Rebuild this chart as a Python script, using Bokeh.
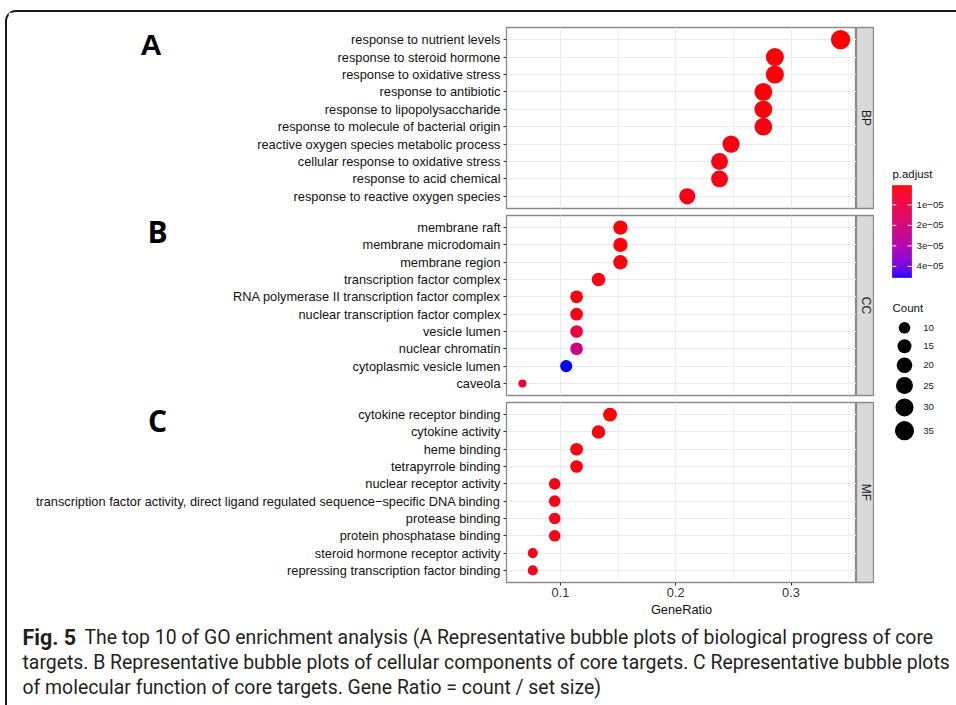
import numpy as np
from bokeh.plotting import figure
from bokeh.models import (ColumnDataSource, FactorRange, Range1d, FixedTicker,
                          LinearColorMapper, Label)
from bokeh.layouts import row, column
from bokeh.transform import transform
from bokeh.core.properties import value
from bokeh.embed import file_html
from bokeh.resources import INLINE

FONT = "Liberation Sans"
CAP_FONT = "Roboto"

# ---------------- data ----------------
BP_TERMS = ["response to nutrient levels", "response to steroid hormone",
            "response to oxidative stress", "response to antibiotic",
            "response to lipopolysaccharide", "response to molecule of bacterial origin",
            "reactive oxygen species metabolic process", "cellular response to oxidative stress",
            "response to acid chemical", "response to reactive oxygen species"]
BP_RATIO = [0.343, 0.286, 0.286, 0.276, 0.276, 0.276, 0.248, 0.238, 0.238, 0.210]
BP_COUNT = [36, 30, 30, 29, 29, 29, 26, 25, 25, 22]
BP_PADJ = [5.8e-07, 1.1e-06, 1.6e-06, 1.3e-06, 1.5e-06, 1.9e-06, 2.1e-06, 2.4e-06, 2.6e-06, 3.0e-06]

CC_TERMS = ["membrane raft", "membrane microdomain", "membrane region",
            "transcription factor complex", "RNA polymerase II transcription factor complex",
            "nuclear transcription factor complex", "vesicle lumen", "nuclear chromatin",
            "cytoplasmic vesicle lumen", "caveola"]
CC_RATIO = [0.152, 0.152, 0.152, 0.133, 0.114, 0.114, 0.114, 0.114, 0.105, 0.067]
CC_COUNT = [16, 16, 16, 14, 12, 12, 12, 12, 11, 7]
CC_PADJ = [1.2e-06, 1.4e-06, 1.6e-06, 2.2e-06, 2.0e-06, 2.4e-06, 9.5e-06, 2.2e-05, 4.54e-05, 5.5e-06]

MF_TERMS = ["cytokine receptor binding", "cytokine activity", "heme binding",
            "tetrapyrrole binding", "nuclear receptor activity",
            "transcription factor activity, direct ligand regulated sequence\u2212specific DNA binding",
            "protease binding", "protein phosphatase binding",
            "steroid hormone receptor activity", "repressing transcription factor binding"]
MF_RATIO = [0.143, 0.133, 0.114, 0.114, 0.095, 0.095, 0.095, 0.095, 0.076, 0.076]
MF_COUNT = [15, 14, 12, 12, 10, 10, 10, 10, 8, 8]
MF_PADJ = [1.0e-06, 1.2e-06, 1.8e-06, 2.0e-06, 2.3e-06, 2.5e-06, 2.7e-06, 2.9e-06, 3.0e-06, 3.2e-06]

PANELS = ["BP", "CC", "MF"]
LETTERS = ["A", "B", "C"]
X_TICKS = [0.1, 0.2, 0.3]
X_TICK_LABELS = ["0.1", "0.2", "0.3"]
X_MINOR = [0.15, 0.25, 0.35]
PADJ_TICKS = [1e-05, 2e-05, 3e-05, 4e-05]
PADJ_TICK_LABELS = ["1e\u221205", "2e\u221205", "3e\u221205", "4e\u221205"]
COUNT_BREAKS = [10, 15, 20, 25, 30, 35]
CAPTION_BOLD = "Fig. 5"
CAPTION_LINES = ["The top 10 of GO enrichment analysis (A Representative bubble plots of biological progress of core",
                 "targets. B Representative bubble plots of cellular components of core targets. C Representative bubble plots",
                 "of molecular function of core targets. Gene Ratio = count / set size)"]

# ---------------- scales ----------------
ALL_RATIO = BP_RATIO + CC_RATIO + MF_RATIO
ALL_COUNT = BP_COUNT + CC_COUNT + MF_COUNT
ALL_PADJ = BP_PADJ + CC_PADJ + MF_PADJ
span = max(ALL_RATIO) - min(ALL_RATIO)
XMIN, XMAX = min(ALL_RATIO) - 0.05 * span, max(ALL_RATIO) + 0.05 * span
CMIN, CMAX = min(ALL_COUNT), max(ALL_COUNT)
PMIN, PMAX = min(ALL_PADJ), max(ALL_PADJ)
D_MIN, D_MAX = 8.0, 19.3


def size_of(c):
    t = (np.asarray(c, dtype=float) - CMIN) / (CMAX - CMIN)
    return D_MIN + (D_MAX - D_MIN) * np.sqrt(np.clip(t, 0, None))


M = np.array([[0.4124564, 0.3575761, 0.1804375],
              [0.2126729, 0.7151522, 0.0721750],
              [0.0193339, 0.1191920, 0.9503041]])
WHITE = np.array([0.95047, 1.0, 1.08883])


def to_lab(h):
    rgb = np.array([int(h[i:i + 2], 16) for i in (1, 3, 5)]) / 255.0
    lin = np.where(rgb <= 0.04045, rgb / 12.92, ((rgb + 0.055) / 1.055) ** 2.4)
    xyz = (M @ lin) / WHITE
    f = np.where(xyz > 0.008856, np.cbrt(xyz), 7.787 * xyz + 16 / 116)
    return np.array([116 * f[1] - 16, 500 * (f[0] - f[1]), 200 * (f[1] - f[2])])


def from_lab(lab):
    L, a, b = lab
    fy = (L + 16) / 116
    f = np.array([fy + a / 500, fy, fy - b / 200])
    xyz = np.where(f ** 3 > 0.008856, f ** 3, (f - 16 / 116) / 7.787) * WHITE
    lin = np.clip(np.linalg.inv(M) @ xyz, 0, 1)
    rgb = np.where(lin <= 0.0031308, 12.92 * lin, 1.055 * lin ** (1 / 2.4) - 0.055)
    return "#%02x%02x%02x" % tuple(int(round(v * 255)) for v in np.clip(rgb, 0, 1))


L0, L1 = to_lab("#ff0000"), to_lab("#0000ff")
PAL = [from_lab(L0 + (L1 - L0) * t) for t in np.linspace(0, 1, 256)]
cmap = LinearColorMapper(palette=PAL, low=PMIN, high=PMAX)

x_range = Range1d(XMIN, XMAX)
GRID = "#ebebeb"
BORDER = "#8a8a8a"

FRAME_W = 350
LEFT = 498
X_PER_PX = (XMAX - XMIN) / FRAME_W


def make_panel(terms, ratio, count, padj, strip, letter, top, fh, bottom, xaxis, letter_dx, letter_dy, letter_font):
    src = ColumnDataSource(dict(term=terms, ratio=ratio, count=count, padj=padj, size=size_of(count)))
    n = len(terms)
    p = figure(y_range=FactorRange(factors=list(reversed(terms)), range_padding=0.2,
                                   range_padding_units="absolute"),
               x_range=x_range, frame_width=FRAME_W, frame_height=fh,
               min_border_left=LEFT, min_border_right=0, min_border_top=top, min_border_bottom=bottom,
               output_backend="svg", toolbar_location=None)
    p.outline_line_color = BORDER
    p.outline_line_width = 1.3
    p.xgrid.ticker = FixedTicker(ticks=X_TICKS, minor_ticks=X_MINOR)
    p.xgrid.grid_line_color = GRID
    p.xgrid.grid_line_width = 1.1
    p.xgrid.minor_grid_line_color = GRID
    p.xgrid.minor_grid_line_width = 0.7
    p.ygrid.grid_line_color = GRID
    p.ygrid.grid_line_width = 1.1
    ya = p.yaxis[0]
    ya.axis_line_color = None
    ya.major_tick_line_color = "#333333"
    ya.major_tick_out = 3
    ya.major_tick_in = 0
    ya.major_label_standoff = 3
    ya.major_label_text_font = FONT
    ya.major_label_text_font_size = "12.8px"
    ya.major_label_text_color = "#111111"
    xa = p.xaxis[0]
    if xaxis:
        xa.ticker = FixedTicker(ticks=X_TICKS)
        xa.major_label_overrides = dict(zip(X_TICKS, X_TICK_LABELS))
        xa.axis_line_color = None
        xa.major_tick_line_color = "#333333"
        xa.major_tick_out = 3
        xa.major_tick_in = 0
        xa.minor_tick_line_color = None
        xa.major_label_standoff = 2
        xa.major_label_text_font = FONT
        xa.major_label_text_font_size = "12.8px"
        xa.major_label_text_color = "#333333"
        xa.axis_label = "GeneRatio"
        xa.axis_label_standoff = 2
        xa.axis_label_text_font = FONT
        xa.axis_label_text_font_size = "12.8px"
        xa.axis_label_text_font_style = "normal"
        xa.axis_label_text_color = "#111111"
    else:
        xa.visible = False
    p.scatter(x="ratio", y="term", size="size", source=src,
              fill_color=transform("padj", cmap), line_color=None)
    # panel letter: lives in the left side panel (not clipped), positioned in data units
    y_top = n + 0.1
    y_per_px = (n + 0.2) / fh
    p.add_layout(Label(x=XMIN + letter_dx * X_PER_PX, y=y_top - letter_dy * y_per_px,
                       x_units="data", y_units="data",
                       text=letter, text_font=letter_font, text_font_style="bold",
                       text_font_size="30px", text_align="center", text_baseline="middle",
                       text_color="black"), "left")

    s = figure(x_range=Range1d(0, 1), y_range=Range1d(0, 1), frame_width=18, frame_height=fh,
               min_border_left=0, min_border_right=0, min_border_top=top, min_border_bottom=bottom,
               x_axis_location=None, y_axis_location=None,
               output_backend="svg", toolbar_location=None)
    s.grid.visible = False
    s.background_fill_color = "#d9d9d9"
    s.outline_line_color = BORDER
    s.outline_line_width = 1.3
    s.text(x=[0.5], y=[0.5], text=[strip], angle=-np.pi / 2, text_align="center",
           text_baseline="middle", text_font=value(FONT), text_font_size="12px",
           text_color="#1a1a1a")
    return row(p, s)


# page offsets: content starts at page (8, 12)
r1 = make_panel(BP_TERMS, BP_RATIO, BP_COUNT, BP_PADJ, PANELS[0], LETTERS[0], 15, 181, 3, False,
                150.5 - 506, 43 - 27, FONT)
r2 = make_panel(CC_TERMS, CC_RATIO, CC_COUNT, CC_PADJ, PANELS[1], LETTERS[1], 4, 180, 3, False,
                157 - 506, 230 - 215, "Open Sans")
r3 = make_panel(MF_TERMS, MF_RATIO, MF_COUNT, MF_PADJ, PANELS[2], LETTERS[2], 4, 180, 38, True,
                157 - 506, 419 - 402, "Open Sans")

TOP_Y = 12
TOTAL_H = (15 + 181 + 3) + (4 + 180 + 3) + (4 + 180 + 38)
LEG_X = 874
LEG_W = 74
leg = figure(width=LEG_W, height=TOTAL_H, x_range=Range1d(0, LEG_W), y_range=Range1d(TOTAL_H, 0),
             min_border=0, x_axis_location=None, y_axis_location=None,
             output_backend="svg", toolbar_location=None)
leg.grid.visible = False
leg.outline_line_color = None

# colour bar: p.adjust range mapped onto the bar (bar from page y 185 to 277)
BAR_TOP, BAR_H = 185 - TOP_Y, 92
k = (PMAX - PMIN) / BAR_H
leg.extra_y_ranges = {"padj": Range1d(start=PMIN + (TOTAL_H - BAR_TOP) * k, end=PMIN - BAR_TOP * k)}
edges = np.linspace(PMIN, PMAX, 93)
gsrc = ColumnDataSource(dict(bottom=edges[1:], top=edges[:-1], mid=(edges[1:] + edges[:-1]) / 2))
BX0, BX1 = 892 - LEG_X, 911 - LEG_X
leg.quad(left=BX0, right=BX1, bottom="bottom", top="top", source=gsrc, y_range_name="padj",
         fill_color=transform("mid", cmap), line_color=transform("mid", cmap), line_width=0.6)
tsrc = ColumnDataSource(dict(v=PADJ_TICKS, lab=PADJ_TICK_LABELS))
leg.segment(x0=BX0, x1=BX0 + 3.8, y0="v", y1="v", source=tsrc, y_range_name="padj",
            line_color="white", line_width=1)
leg.segment(x0=BX1 - 3.8, x1=BX1, y0="v", y1="v", source=tsrc, y_range_name="padj",
            line_color="white", line_width=1)
leg.text(x=916 - LEG_X, y="v", text="lab", source=tsrc, y_range_name="padj",
         text_font=value(FONT), text_font_size="9.7px", text_baseline="middle",
         text_align="left", text_color="#222222")
leg.text(x=[BX0], y=[173 - TOP_Y], text=["p.adjust"], text_font=value(FONT), text_font_size="11.4px",
         text_baseline="middle", text_align="left", text_color="#111111")

# size legend
sizes = size_of(COUNT_BREAKS)
keys = np.maximum(18.5, sizes * 1.25)
ys = [327.3 - TOP_Y]
for i in range(1, len(keys)):
    ys.append(ys[-1] + (keys[i - 1] + keys[i]) / 2)
lsrc = ColumnDataSource(dict(x=[904 - LEG_X] * len(COUNT_BREAKS), y=ys, size=sizes,
                             lab=[str(c) for c in COUNT_BREAKS], lx=[922.7 - LEG_X] * len(COUNT_BREAKS)))
leg.scatter(x="x", y="y", size="size", source=lsrc, fill_color="black", line_color=None)
leg.text(x="lx", y="y", text="lab", source=lsrc, text_font=value(FONT), text_font_size="9.7px",
         text_baseline="middle", text_align="left", text_color="#222222")
leg.text(x=[BX0], y=[307 - TOP_Y], text=["Count"], text_font=value(FONT), text_font_size="11.5px",
         text_baseline="middle", text_align="left", text_color="#111111")

CAP_W = 948
CAP_H = 705 - TOP_Y - TOTAL_H
cap = figure(width=CAP_W, height=CAP_H, x_range=Range1d(0, CAP_W), y_range=Range1d(CAP_H, 0),
             min_border=0, x_axis_location=None, y_axis_location=None,
             output_backend="svg", toolbar_location=None)
cap.grid.visible = False
cap.outline_line_color = None
cap_top = TOP_Y + TOTAL_H
cap_y = [637 - cap_top, 662 - cap_top, 687 - cap_top]
cap.text(x=[22 - 8], y=[cap_y[0]], text=[CAPTION_BOLD], text_font=value(CAP_FONT), text_font_style="bold",
         text_font_size="21.5px", text_baseline="middle", text_color="#231f20")
cap.text(x=[84 - 8, 22 - 8, 22 - 8], y=cap_y, text=CAPTION_LINES, text_font=value(CAP_FONT),
         text_font_size="19.4px", text_baseline="middle", text_color="#231f20")

panels = column(r1, r2, r3)
top = row(panels, leg)
root = column(top, cap, styles={"border-left": "2px solid #1a1a1a", "border-top": "2px solid #1a1a1a",
                                "border-top-left-radius": "11px", "margin-left": "5px",
                                "margin-top": "10px", "padding-left": "1px"})

open("out.html", "w").write(file_html(root, INLINE))
